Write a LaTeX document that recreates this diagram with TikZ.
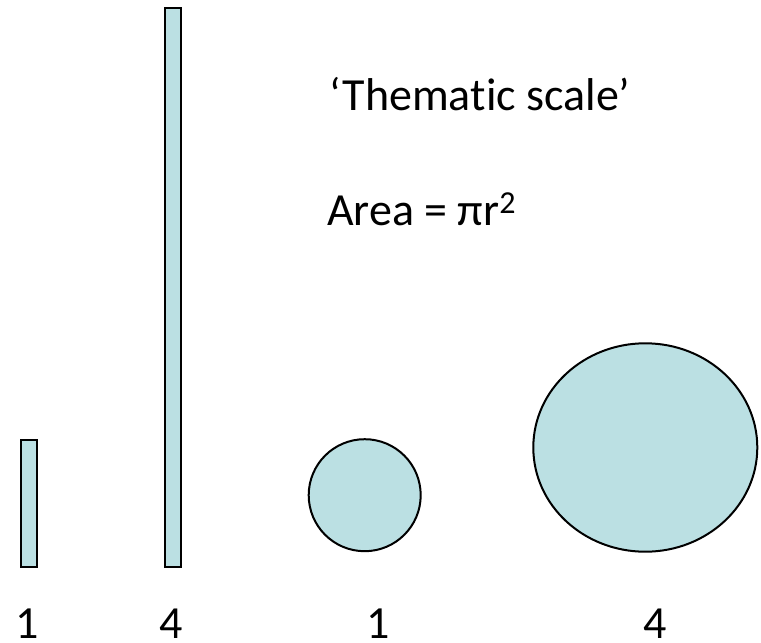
\documentclass[tikz,border=0pt]{standalone}
\usepackage{fontspec}
\setmainfont{Carlito}[Ligatures={NoCommon}]
\definecolor{shapefill}{RGB}{187,224,227}
\tikzset{
  barbox/.style={draw=black, fill=shapefill, line width=2.5pt},
  disc/.style={draw=black, fill=shapefill, line width=2pt},
  lbl/.style={inner sep=0pt, font=\fontsize{46}{55}\selectfont},
}
\begin{document}
\begin{tikzpicture}[x=1pt,y=-1pt]
\useasboundingbox (0,0) rectangle (761,643);
\draw[barbox] (21,440) rectangle (37,567);
\draw[barbox] (165,8) rectangle (181,567);
\draw[disc] (364.7,495.2) circle (56);
\draw[disc] (645.3,447.5) ellipse (112 and 104.2);
\node[lbl, anchor=base west] (title) at (329,110) {‘Thematic scale’};
\node[lbl, anchor=base west] (area) at (327,225) {Area = πr\raisebox{12pt}{\fontsize{32}{32}\selectfont 2}};
\node[lbl, anchor=base] (l1) at (27,638) {1};
\node[lbl, anchor=base] (l2) at (171,638) {4};
\node[lbl, anchor=base] (l3) at (378,638) {1};
\node[lbl, anchor=base] (l4) at (655,638) {4};
\end{tikzpicture}
\end{document}
